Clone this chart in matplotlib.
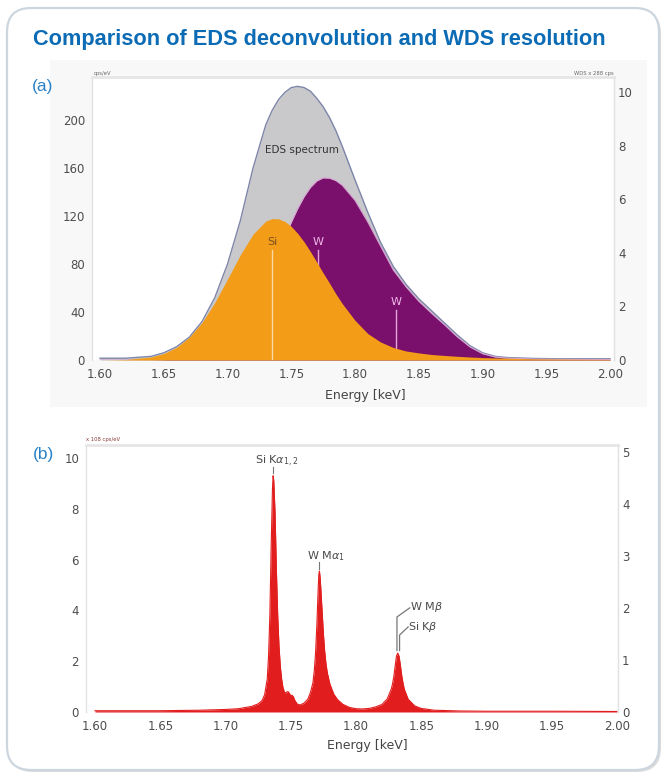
import matplotlib
matplotlib.use("Agg")
import matplotlib.pyplot as plt
from matplotlib.patches import FancyBboxPatch, Rectangle

W, H = 667, 776

# ---------------- data: panel (a) EDS deconvolution ----------------
energy_a = [1.60, 1.62, 1.64, 1.65, 1.66, 1.67, 1.68, 1.69, 1.70, 1.71, 1.72, 1.73,
            1.735, 1.74, 1.745, 1.75, 1.755, 1.76, 1.765, 1.77, 1.775, 1.78, 1.785,
            1.79, 1.80, 1.81, 1.82, 1.83, 1.84, 1.85, 1.86, 1.87, 1.88, 1.89, 1.90,
            1.91, 1.92, 1.94, 1.96, 1.98, 2.00]
eds_spectrum = [1.5, 1.5, 3, 6, 11, 19, 32, 52, 80, 116, 160, 196,
                208, 217, 223, 227, 228, 227, 224, 218, 211, 202, 191,
                178, 150, 123, 98, 78, 63, 51, 41, 31, 21, 12, 6,
                3, 2, 1.3, 1, 1, 1]
si_component = [0, 0.4, 2.5, 5.4, 10.5, 18.9, 31.3, 47.9, 67.5, 87.6, 104.9, 115.7,
                117.8, 117.6, 115.4, 111.3, 105.5, 98.5, 90.3, 81.5, 72.5, 64, 55,
                47, 33, 22, 15, 10.4, 7.5, 5.9, 4.6, 3.8, 3.1, 2.5, 2,
                1.7, 1.5, 1, 0.8, 0.6, 0.5]
w_component = [0, 0, 0.1, 0.3, 0.8, 1.8, 4.0, 8.2, 15.4, 26.9, 43.4, 64.8,
               77, 89.6, 102.4, 114.7, 126.1, 136, 143.8, 149.2, 151.8, 151.5, 149.5,
               145.6, 133, 115, 95, 75, 61, 49, 39, 29.5, 19.5, 11, 5.3,
               2.5, 1.5, 0.8, 0.5, 0.4, 0.4]
line_labels_a = ["Si", "W", "W"]
line_energies_a = [1.7349, 1.771, 1.832]
line_label_heights_a = [98, 98, 48]

# ---------------- data: panel (b) WDS ----------------
energy_b = [1.600, 1.650, 1.680, 1.700, 1.710, 1.720, 1.725, 1.728, 1.730, 1.732,
            1.733, 1.734, 1.735, 1.736, 1.7365, 1.737, 1.738, 1.739, 1.740, 1.741,
            1.742, 1.743, 1.744, 1.745, 1.746, 1.747, 1.748, 1.749, 1.750, 1.751,
            1.752, 1.753, 1.755, 1.757, 1.760, 1.763, 1.765, 1.767, 1.768, 1.769,
            1.770, 1.771, 1.7715, 1.772, 1.7725, 1.773, 1.774, 1.775, 1.776, 1.777,
            1.778, 1.780, 1.783, 1.786, 1.790, 1.795, 1.800, 1.805, 1.810, 1.815,
            1.820, 1.824, 1.827, 1.828, 1.829, 1.830, 1.831, 1.832, 1.833, 1.834,
            1.835, 1.836, 1.837, 1.840, 1.845, 1.850, 1.860, 1.880, 1.900, 1.950,
            2.000]
wds_counts = [0.05, 0.05, 0.07, 0.10, 0.13, 0.22, 0.32, 0.45, 0.68, 1.3,
              2.2, 3.8, 6.5, 8.8, 9.3, 9.1, 7.8, 5.6, 3.8, 2.6,
              1.8, 1.3, 0.98, 0.8, 0.74, 0.79, 0.80, 0.73, 0.64, 0.66,
              0.60, 0.47, 0.31, 0.28, 0.34, 0.50, 0.75, 1.15, 1.6, 2.3,
              3.4, 4.8, 5.4, 5.55, 5.3, 4.9, 4.0, 3.1, 2.4, 1.9,
              1.55, 1.1, 0.7, 0.48, 0.30, 0.18, 0.13, 0.12, 0.14, 0.2,
              0.3, 0.52, 0.9, 1.1, 1.4, 1.8, 2.2, 2.32, 2.2, 1.85,
              1.45, 1.15, 0.9, 0.5, 0.24, 0.14, 0.07, 0.04, 0.03, 0.03,
              0.02]

x_ticks = [1.60, 1.65, 1.70, 1.75, 1.80, 1.85, 1.90, 1.95, 2.00]
x_tick_labels = ["1.60", "1.65", "1.70", "1.75", "1.80", "1.85", "1.90", "1.95", "2.00"]
a_left_ticks = [0, 40, 80, 120, 160, 200]
a_right_ticks = [0, 2, 4, 6, 8, 10]
b_left_ticks = [0, 2, 4, 6, 8, 10]
b_right_ticks = [0, 1, 2, 3, 4, 5]

title = "Comparison of EDS deconvolution and WDS resolution"

# ---------------- figure ----------------
fig = plt.figure(figsize=(W / 100, H / 100), dpi=100)
fig.patch.set_facecolor("white")

bg = fig.add_axes([0, 0, 1, 1], zorder=-10)
bg.set_xlim(0, W)
bg.set_ylim(H, 0)
bg.axis("off")
bg.add_patch(FancyBboxPatch((9, 10), 652, 762, boxstyle="round,pad=0,rounding_size=24",
                            fc="#dcdcdc", ec="none"))
bg.add_patch(FancyBboxPatch((7, 8), 652, 762, boxstyle="round,pad=0,rounding_size=24",
                            fc="white", ec="#cdd6de", lw=1.6))
bg.add_patch(Rectangle((50, 60), 597, 347, fc="#f8f8f8", ec="none"))

TICK_C = "#4d4d4d"
SPINE_C = "#e2e2e2"


def style_axes(ax, twin):
    for s in ("left", "right"):
        ax.spines[s].set_color(SPINE_C)
        ax.spines[s].set_linewidth(1.0)
    ax.spines["top"].set_color("#e6e6e6")
    ax.spines["top"].set_linewidth(2.0)
    ax.spines["bottom"].set_visible(False)
    ax.tick_params(axis="both", length=0, labelsize=8.5, colors=TICK_C)
    ax.tick_params(axis="x", pad=6)
    ax.tick_params(axis="y", pad=5)
    twin.spines["bottom"].set_visible(False)
    twin.spines["top"].set_visible(False)
    twin.spines["right"].set_color(SPINE_C)
    twin.spines["left"].set_visible(False)
    twin.tick_params(axis="y", length=0, labelsize=8.5, colors=TICK_C, pad=3)


# ---------------- panel (a) ----------------
ax_a = fig.add_axes([92 / W, 1 - 360 / H, (614 - 92) / W, (360 - 77) / H])
ax_a.set_facecolor("white")
ax_a.set_xlim(1.5937, 2.0031)
ax_a.set_ylim(0, 235.8)

ax_a.fill_between(energy_a, eds_spectrum, 0, color="#c9c9cc", lw=0, zorder=1)
ax_a.plot(energy_a, eds_spectrum, color="#7d85a8", lw=1.0, zorder=1.2)
ax_a.fill_between(energy_a, w_component, 0, color="#7a0f6c", lw=0, zorder=2)
ax_a.plot(energy_a, w_component, color="#d7a6d2", lw=0.8, zorder=2.1)
for lab, e, h in zip(line_labels_a[1:], line_energies_a[1:], line_label_heights_a[1:]):
    ax_a.plot([e, e], [0, h - 6], color="#e2a6dc", lw=1.0, zorder=2.5)
    ax_a.text(e, h, lab, color="#f0b8ea", fontsize=8, ha="center", va="center", zorder=5)
ax_a.fill_between(energy_a, si_component, 0, color="#f29c18", lw=0, zorder=3)
ax_a.plot([line_energies_a[0], line_energies_a[0]], [0, line_label_heights_a[0] - 6],
          color="#fbd9a4", lw=1.0, zorder=3.5)
ax_a.text(line_energies_a[0], line_label_heights_a[0], line_labels_a[0], color="#7a5220",
          fontsize=8, ha="center", va="center", zorder=5)
ax_a.text(1.7586, 175, "EDS spectrum", color="#333333", fontsize=7.5, ha="center",
          va="center", zorder=5)

ax_a.set_xticks(x_ticks)
ax_a.set_xticklabels(x_tick_labels)
ax_a.set_yticks(a_left_ticks)
ax_a2 = ax_a.twinx()
ax_a2.set_ylim(0, 10.56)
ax_a2.set_yticks(a_right_ticks)
style_axes(ax_a, ax_a2)

# ---------------- panel (b) ----------------
ax_b = fig.add_axes([86 / W, 1 - 712 / H, (618 - 86) / W, (712 - 445) / H])
ax_b.set_facecolor("white")
ax_b.set_xlim(1.5931, 2.0008)
ax_b.set_ylim(0, 10.51)
ax_b.fill_between(energy_b, wds_counts, 0, color="#e21d1d", lw=0, zorder=2)
ax_b.plot(energy_b, wds_counts, color="#e21d1d", lw=0.8, zorder=2.1)

ax_b.set_xticks(x_ticks)
ax_b.set_xticklabels(x_tick_labels)
ax_b.set_yticks(b_left_ticks)
ax_b2 = ax_b.twinx()
ax_b2.set_ylim(0, 5.13)
ax_b2.set_yticks(b_right_ticks)
style_axes(ax_b, ax_b2)

LAB_C = "#4a4a4a"
# peak annotations
ax_b.plot([1.7362, 1.7362], [9.42, 9.65], color="#777777", lw=0.8, zorder=4)
ax_b.text(1.7226, 9.86, r"Si K$\alpha_{1,2}$", fontsize=8, color=LAB_C, ha="left",
          va="center", zorder=5)
ax_b.plot([1.7717, 1.7717], [5.62, 5.9], color="#777777", lw=0.8, zorder=4)
ax_b.text(1.7625, 6.12, r"W M$\alpha_1$", fontsize=8, color=LAB_C, ha="left",
          va="center", zorder=5)
ax_b.plot([1.8314, 1.8314, 1.8412], [2.42, 3.74, 4.1], color="#777777", lw=0.9, zorder=4)
ax_b.plot([1.8334, 1.8334, 1.8400], [2.42, 3.03, 3.35], color="#777777", lw=0.9, zorder=4)
ax_b.text(1.8414, 4.12, r"W M$\beta$", fontsize=8, color=LAB_C, ha="left",
          va="center", zorder=5)
ax_b.text(1.8402, 3.33, r"Si K$\beta$", fontsize=8, color=LAB_C, ha="left",
          va="center", zorder=5)

# ---------------- text in pixel coordinates ----------------
t = bg.text(33, 45, title, fontsize=15, fontweight="bold", color="#0b6bb5",
            va="baseline", ha="left", family=["Liberation Sans", "DejaVu Sans"])
fig.canvas.draw()
bb = t.get_window_extent(renderer=fig.canvas.get_renderer())
t.set_fontsize(15 * 573.0 / bb.width)

bg.text(43, 86, "(a)", fontsize=12.5, color="#2a82c8", ha="center", va="center",
        family=["Liberation Sans", "DejaVu Sans"])
bg.text(43, 455, "(b)", fontsize=12.5, color="#2a82c8", ha="center", va="center",
        family=["Liberation Sans", "DejaVu Sans"])

bg.text(94, 73, "cps/eV", fontsize=3.8, color="#666666", ha="left", va="center")
bg.text(614, 73, "WDS x 288 cps", fontsize=3.8, color="#666666", ha="right", va="center")
bg.text(86, 440, "x 108 cps/eV", fontsize=3.8, color="#8a3a3a", ha="left", va="center")
bg.text(616, 449, "WDS x 183 cps", fontsize=3.8, color="#7a2a2a", ha="right", va="center")

bg.text(365, 395, "Energy [keV]", fontsize=9, color="#444444", ha="center", va="center")
bg.text(367, 746, "Energy [keV]", fontsize=9, color="#444444", ha="center", va="center")

fig.savefig("out.png", dpi=100, facecolor="white")
